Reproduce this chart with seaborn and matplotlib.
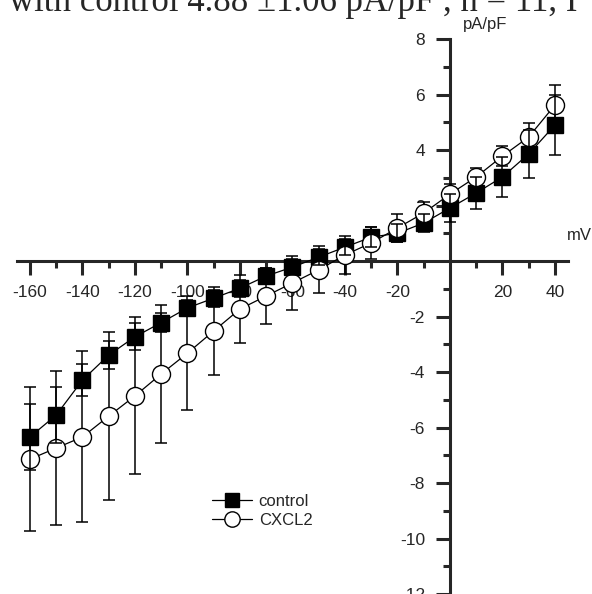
import numpy as np
import pandas as pd
import seaborn as sns
import matplotlib.pyplot as plt

# membrane potential steps (mV)
voltage = [-160, -150, -140, -130, -120, -110, -100, -90, -80, -70, -60,
           -50, -40, -30, -20, -10, 0, 10, 20, 30, 40]

# current density (pA/pF), mean and SEM
control_mean = [-6.34, -5.55, -4.29, -3.39, -2.73, -2.22, -1.69, -1.34, -0.98, -0.54, -0.22,
                0.14, 0.50, 0.86, 1.00, 1.37, 1.91, 2.45, 3.03, 3.86, 4.90]
control_sem = [1.19, 1.00, 0.59, 0.49, 0.49, 0.34, 0.30, 0.30, 0.30, 0.30, 0.30,
               0.30, 0.30, 0.35, 0.33, 0.32, 0.50, 0.58, 0.72, 0.86, 1.08]
cxcl2_mean = [-7.14, -6.74, -6.34, -5.59, -4.86, -4.07, -3.32, -2.52, -1.73, -1.26, -0.79,
              -0.32, 0.22, 0.65, 1.19, 1.73, 2.41, 3.03, 3.78, 4.47, 5.62]
cxcl2_sem = [2.59, 2.77, 3.08, 3.03, 2.83, 2.49, 2.05, 1.59, 1.23, 1.01, 0.97,
             0.85, 0.68, 0.56, 0.49, 0.40, 0.36, 0.32, 0.36, 0.50, 0.72]

x_major = [-160, -140, -120, -100, -80, -60, -40, -20, 20, 40]
x_minor = [-150, -130, -110, -90, -70, -50, -30, -10, 10, 30]
y_major = [-12, -10, -8, -6, -4, -2, 2, 4, 6, 8]
y_minor = [-11, -9, -7, -5, -3, -1, 1, 3, 5, 7]

df = pd.DataFrame({'mV': voltage, 'control': control_mean, 'CXCL2': cxcl2_mean})

sns.set_style('ticks')
plt.rcParams['font.family'] = ['Liberation Sans', 'DejaVu Sans']
plt.rcParams['axes.unicode_minus'] = False

fig = plt.figure(figsize=(5.92, 5.94), dpi=100)
ax = fig.add_axes([0.0285, 0.0, 0.9311, 0.9343])

err_kw = dict(fmt='none', ecolor='black', elinewidth=1.1, capsize=4, capthick=1.1)

ax.errorbar(voltage, cxcl2_mean, yerr=cxcl2_sem, zorder=3, **err_kw)
sns.lineplot(data=df, x='mV', y='control', ax=ax, color='black', linewidth=0.9,
             marker='s', markersize=12, markerfacecolor='black',
             markeredgecolor='black', markeredgewidth=1, label='control', zorder=4)
sns.lineplot(data=df, x='mV', y='CXCL2', ax=ax, color='black', linewidth=0.9,
             marker='o', markersize=13, markerfacecolor='white',
             markeredgecolor='black', markeredgewidth=1, label='CXCL2', zorder=5)
ax.errorbar(voltage, control_mean, yerr=control_sem, zorder=6, **err_kw)

ax.set_xlim(-165, 45)
ax.set_ylim(-12, 8)
ax.set_xlabel('')
ax.set_ylabel('')

sns.despine(ax=ax)
ax.spines['left'].set_position(('data', 0))
ax.spines['bottom'].set_position(('data', 0))
for s in ['left', 'bottom']:
    ax.spines[s].set_linewidth(2.2)

ax.set_xticks(x_major)
ax.set_xticks(x_minor, minor=True)
ax.set_yticks(y_major)
ax.set_yticks(y_minor, minor=True)
ax.tick_params(which='major', direction='out', length=10, width=2.2, labelsize=12.5)
ax.tick_params(which='minor', direction='out', length=5, width=2.2)
ax.tick_params(axis='x', which='major', pad=7)
ax.tick_params(axis='y', which='major', pad=8)

ax.legend(loc='center left', bbox_to_anchor=(212 / 592, 1 - 511 / 594),
          bbox_transform=fig.transFigure, frameon=False, fontsize=12,
          borderpad=0, borderaxespad=0, handlelength=2.4, handletextpad=0.4,
          labelspacing=0.25, markerscale=0.85)

fig.text(485 / 592, 1 - 25 / 594, 'pA/pF', ha='center', va='center', fontsize=12)
fig.text(579 / 592, 1 - 236 / 594, 'mV', ha='center', va='center', fontsize=12)
fig.text(9 / 592, 1 - 11 / 594, 'with control 4.88 \u00b11.06 pA/pF , n = 11, I',
         family=['Liberation Serif', 'DejaVu Serif'], fontsize=25, va='baseline')

fig.savefig('out.png', dpi=100)
